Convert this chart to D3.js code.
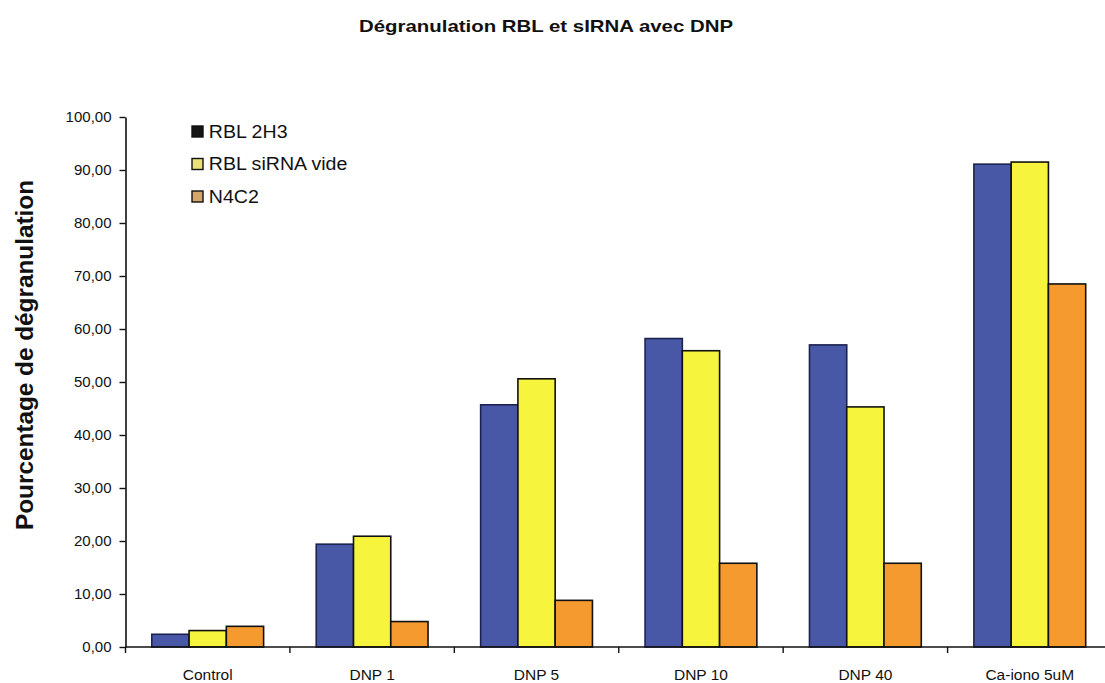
<!DOCTYPE html>
<html>
<head>
<meta charset="utf-8">
<script src="https://cdn.jsdelivr.net/npm/d3@7/dist/d3.min.js"></script>
<style>
  html, body { margin: 0; padding: 0; background: #fff; }
  svg { display: block; }
  text { font-family: "Liberation Sans", Arial, sans-serif; fill: #111; }
</style>
</head>
<body>
<svg id="chart" width="1105" height="683"></svg>
<script>
// Degranulation results per condition and cell line
const categories = ["Control", "DNP 1", "DNP 5", "DNP 10", "DNP 40", "Ca-iono 5uM"];
const seriesNames = ["RBL 2H3", "RBL siRNA vide", "N4C2"];
const rbl2h3 = [2.4, 19.4, 45.7, 58.2, 57.0, 91.1];
const rblSirnaVide = [3.1, 20.9, 50.6, 55.9, 45.3, 91.5];
const n4c2 = [3.9, 4.8, 8.8, 15.8, 15.8, 68.5];
const yTicks = [0, 10, 20, 30, 40, 50, 60, 70, 80, 90, 100];

const barColors = ["#4858a6", "#f6f43c", "#f59a2e"];
const swatchColors = ["#151515", "#e9e27a", "#d4a46a"];

const svg = d3.select("#chart");
const margin = { left: 125.5, right: 1112, top: 117, bottom: 647 };

const x0 = d3.scaleBand()
  .domain(categories)
  .range([margin.left, margin.right])
  .paddingInner(0.32)
  .paddingOuter(0.16);

const x1 = d3.scaleBand()
  .domain(seriesNames)
  .range([0, x0.bandwidth()])
  .padding(0);

const y = d3.scaleLinear().domain([0, 100]).range([margin.bottom, margin.top]);

const rows = categories.map((c, i) => ({
  category: c,
  values: [rbl2h3[i], rblSirnaVide[i], n4c2[i]].map((v, k) => ({ name: seriesNames[k], value: v, k }))
}));

// Title
svg.append("text")
  .attr("x", 546).attr("y", 32)
  .attr("text-anchor", "middle")
  .attr("font-size", 16.5).attr("font-weight", "bold")
  .attr("textLength", 374).attr("lengthAdjust", "spacingAndGlyphs")
  .text("Dégranulation RBL et sIRNA avec DNP");

// Bars
const groups = svg.append("g").selectAll("g")
  .data(rows).join("g")
  .attr("transform", d => `translate(${x0(d.category)},0)`);

groups.selectAll("rect")
  .data(d => d.values).join("rect")
  .attr("x", d => x1(d.name))
  .attr("y", d => y(d.value))
  .attr("width", x1.bandwidth())
  .attr("height", d => y(0) - y(d.value))
  .attr("fill", d => barColors[d.k])
  .attr("stroke", d => d.k === 0 ? "#1c2350" : "#111")
  .attr("stroke-width", 1.6);

// Y axis
const yAxis = d3.axisLeft(y)
  .tickValues(yTicks)
  .tickSize(6)
  .tickSizeOuter(0)
  .tickFormat(d => d3.format(".2f")(d).replace(".", ","));

const gy = svg.append("g")
  .attr("transform", `translate(${margin.left},0)`)
  .call(yAxis);
gy.select(".domain").attr("stroke", "#111").attr("stroke-width", 1.6);
gy.selectAll(".tick line").attr("stroke", "#111").attr("stroke-width", 1.4);
gy.selectAll(".tick text")
  .attr("x", -14)
  .attr("font-size", 15)
  .attr("font-family", "Liberation Sans, Arial, sans-serif")
  .attr("fill", "#111");

// X axis with ticks between categories
const xAxisLine = svg.append("g");
xAxisLine.append("line")
  .attr("x1", margin.left).attr("x2", margin.right)
  .attr("y1", y(0)).attr("y2", y(0))
  .attr("stroke", "#111").attr("stroke-width", 1.6);

const boundaries = categories.map(c => x0(c) - x0.step() * x0.paddingOuter());
xAxisLine.selectAll("line.tick")
  .data(boundaries).join("line")
  .attr("class", "tick")
  .attr("x1", d => d).attr("x2", d => d)
  .attr("y1", y(0)).attr("y2", y(0) + 6)
  .attr("stroke", "#111").attr("stroke-width", 1.4);

xAxisLine.selectAll("text")
  .data(categories).join("text")
  .attr("x", d => x0(d) + x0.bandwidth() / 2)
  .attr("y", 680)
  .attr("text-anchor", "middle")
  .attr("font-size", 15.5)
  .text(d => d);

// Y axis title
svg.append("text")
  .attr("transform", "translate(33,355) rotate(-90)")
  .attr("text-anchor", "middle")
  .attr("font-size", 23).attr("font-weight", "bold")
  .attr("textLength", 350).attr("lengthAdjust", "spacingAndGlyphs")
  .text("Pourcentage de dégranulation");

// Legend
const legend = svg.append("g").selectAll("g")
  .data(seriesNames).join("g")
  .attr("transform", (d, i) => `translate(192,${126 + i * 32.5})`);

legend.append("rect")
  .attr("width", 11).attr("height", 11)
  .attr("fill", (d, i) => swatchColors[i])
  .attr("stroke", "#111").attr("stroke-width", 1.4);

legend.append("text")
  .attr("x", 15).attr("y", 11.5)
  .attr("font-size", 17.5)
  .attr("transform", "scale(1.12,1)")
  .text(d => d);
</script>
</body>
</html>
